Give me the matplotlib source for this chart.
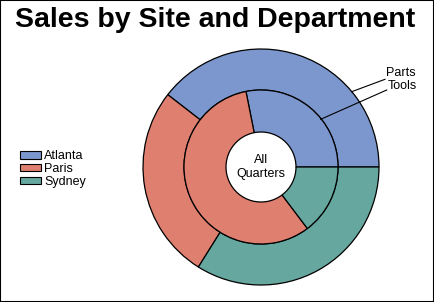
import matplotlib
matplotlib.use('Agg')
from matplotlib import pyplot as plt
from matplotlib.patches import Rectangle, Patch

plt.rcParams['font.family'] = ['Liberation Sans', 'DejaVu Sans']

sites = ['Atlanta', 'Paris', 'Sydney']
colors = ['#7C97CD', '#DF7F6F', '#66A8A0']
parts = [39.5, 26.6, 33.9]   # outer ring
tools = [28.1, 57.1, 14.7]   # inner ring

fig = plt.figure(figsize=(4.34, 3.02), dpi=100)
ax = fig.add_axes([0, 0, 1, 1])

cx, cy = 261, 135
r_out, r_mid, r_in = 118, 77, 35

ax.pie(parts, colors=colors, startangle=0, counterclock=True,
       radius=r_out, center=(cx, cy), frame=True,
       wedgeprops=dict(width=r_out - r_mid, edgecolor='black', linewidth=0.9))
ax.pie(tools, colors=colors, startangle=0, counterclock=True,
       radius=r_mid, center=(cx, cy), frame=True,
       wedgeprops=dict(width=r_mid - r_in, edgecolor='black', linewidth=0.9))
ax.set_xlim(0, 434)
ax.set_ylim(0, 302)
ax.set_aspect('equal')
ax.axis('off')

ax.text(cx, cy, 'All\nQuarters', ha='center', va='center', fontsize=9, linespacing=1.15)

# leader lines
ax.plot([351.7, 385], [302 - 91.7, 302 - 79.3], color='black', lw=0.8)
ax.plot([320.7, 386.7], [302 - 119.3, 302 - 90], color='black', lw=0.8)
ax.text(386, 302 - 73, 'Parts', ha='left', va='center', fontsize=9)
ax.text(388, 302 - 86, 'Tools', ha='left', va='center', fontsize=9)

fig.text(215 / 434, 1 - 27 / 302, 'Sales by Site and Department', ha='center', va='baseline',
         fontsize=20.5, fontweight='bold')

handles = [Patch(facecolor=c, edgecolor='black', linewidth=0.8) for c in colors]
fig.legend(handles, sites, loc='center left', bbox_to_anchor=(20 / 434, 1 - 169 / 302),
           frameon=False, fontsize=9, handlelength=1.65, handleheight=0.5,
           handletextpad=0.3, labelspacing=0.05, borderpad=0, borderaxespad=0)

fig.add_artist(Rectangle((0, 0), 1, 1, transform=fig.transFigure, fill=False,
                         edgecolor='black', linewidth=1.5))

fig.savefig('out.png', dpi=100)
